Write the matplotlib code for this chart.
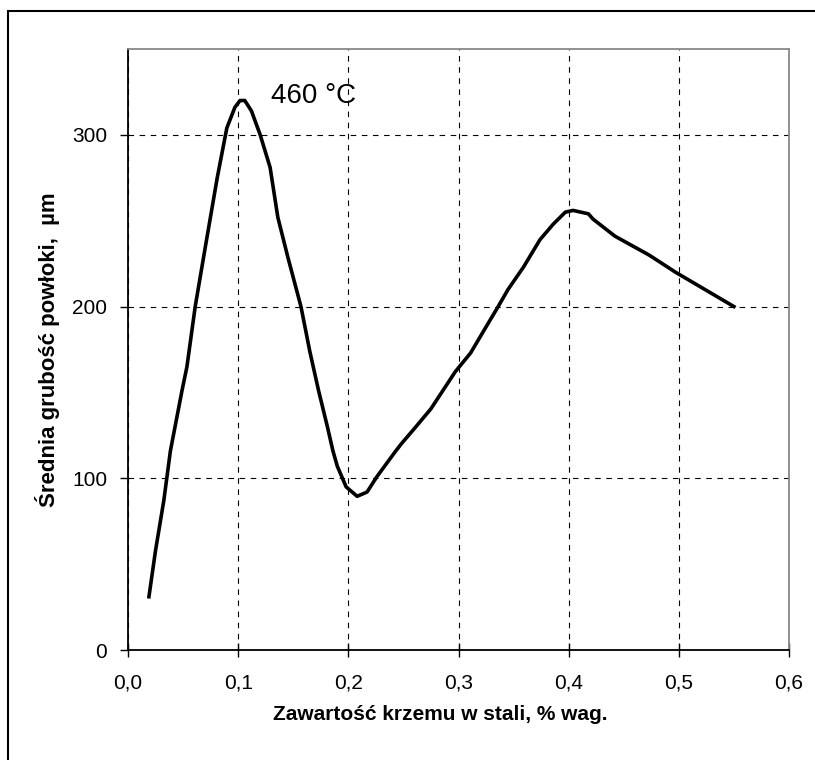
import matplotlib
matplotlib.use("Agg")
from matplotlib import pyplot as plt
from matplotlib.patches import Rectangle

plt.rcParams['font.family'] = ['Liberation Sans', 'DejaVu Sans']

# silicon content (% wt) and mean coating thickness (um)
si = [0.019, 0.025, 0.0325, 0.0385, 0.049, 0.0535, 0.061, 0.070, 0.081, 0.0897,
      0.097, 0.1017, 0.106, 0.112, 0.120, 0.129, 0.136, 0.145, 0.157, 0.165,
      0.173, 0.181, 0.186, 0.190, 0.198, 0.208, 0.217, 0.226, 0.242, 0.248,
      0.260, 0.275, 0.297, 0.311, 0.323, 0.336, 0.345, 0.359, 0.374, 0.386,
      0.397, 0.404, 0.418, 0.422, 0.442, 0.473, 0.497, 0.550]
thick = [31, 58, 87, 116, 151, 165, 200, 234, 275, 304,
         316, 320, 320, 314, 300, 281, 252, 229, 200, 174,
         151, 130, 116, 107, 95, 89.5, 92, 101, 115, 120,
         129, 140.5, 162, 173, 186, 200, 210, 223, 239, 248,
         255, 256, 254, 251, 241, 230, 220, 200]

xticks = [0.0, 0.1, 0.2, 0.3, 0.4, 0.5, 0.6]
xticklabels = ['0,0', '0,1', '0,2', '0,3', '0,4', '0,5', '0,6']
yticks = [0, 100, 200, 300]

fig = plt.figure(figsize=(8.15, 7.6), dpi=100)
ax = fig.add_axes([128/815, 110/760, 661/815, 601/760])

ax.plot(si, thick, color='black', lw=2.6, solid_joinstyle='round')

ax.set_xlim(0, 0.6)
ax.set_ylim(0, 350)
ax.set_xticks(xticks)
ax.set_xticklabels(xticklabels)
ax.set_yticks(yticks)
ax.tick_params(direction='out', length=6, width=1, labelsize=15, pad=9, color='black')
ax.tick_params(axis='x', direction='inout', length=10, pad=12)

ax.grid(True, color='black', linestyle=(0, (5, 5)), linewidth=0.8)
ax.set_axisbelow(True)

ax.spines['left'].set_color('black')
ax.spines['bottom'].set_color('black')
ax.spines['top'].set_color('#888888')
ax.spines['right'].set_color('#888888')
for s in ax.spines.values():
    s.set_linewidth(1.3)

ax.text(0.13, 318.5, '460 °C', fontsize=20, ha='left', va='baseline')

fig.text(440/815, 1 - 715/760, 'Zawartość krzemu w stali, % wag.',
         ha='center', va='center', fontsize=15, fontweight='bold')
fig.text(48/815, 1 - 350/760, 'Średnia grubość powłoki,  µm', rotation=90,
         ha='center', va='center', fontsize=16, fontweight='bold')

# outer frame of the original figure
fig.patches.append(Rectangle((8/815, -0.1), 1.2, 1 - 11/760 + 0.1,
                             transform=fig.transFigure, fill=False,
                             edgecolor='black', lw=1.5))

fig.savefig('out.png', dpi=100)
